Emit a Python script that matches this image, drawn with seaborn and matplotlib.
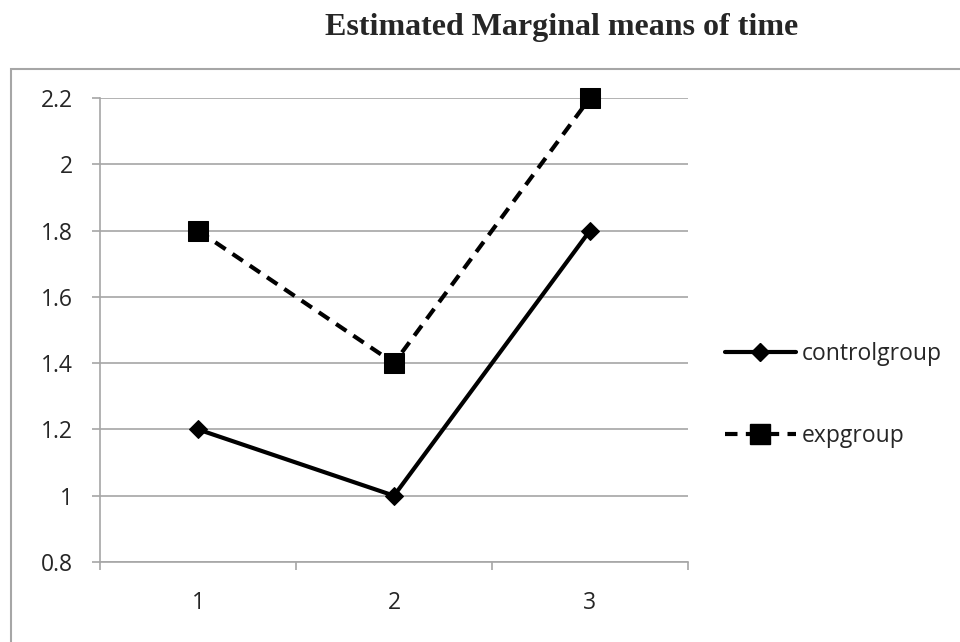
import numpy as np
import pandas as pd
import matplotlib
matplotlib.use('Agg')
import matplotlib.pyplot as plt
from matplotlib.patches import Rectangle
from matplotlib.lines import Line2D
import seaborn as sns

times = [1, 2, 3]
control = [1.2, 1.0, 1.8]
exp = [1.8, 1.4, 2.2]
groups = ['controlgroup', 'expgroup']
y_ticks = [0.8, 1, 1.2, 1.4, 1.6, 1.8, 2, 2.2]
y_labels = ['0.8', '1', '1.2', '1.4', '1.6', '1.8', '2', '2.2']

df = pd.DataFrame({
    'time': times * 2,
    'mean': control + exp,
    'group': [groups[0]] * 3 + [groups[1]] * 3,
})

sns.set_style('white')
plt.rcParams['font.family'] = ['Open Sans', 'DejaVu Sans']
GRID = '#a6a6a6'
FS = 16.5
LW = 3.0

fig = plt.figure(figsize=(9.6, 6.42), dpi=100)
ax = fig.add_axes([100 / 960, 1 - 562 / 642, 588 / 960, 464 / 642])

sns.lineplot(data=df, x='time', y='mean', hue='group', style='group',
             palette=['black', 'black'], markers={'controlgroup': 'D', 'expgroup': 's'},
             dashes={'controlgroup': '', 'expgroup': (3, 2)},
             linewidth=LW, markeredgecolor='black', ax=ax, legend=False, zorder=3)
for ln in ax.lines:
    ln.set_clip_on(False)
    ln.set_markersize(14 if ln.get_marker() == 's' else 9)

ax.set_xlim(0.5, 3.5)
ax.set_ylim(0.8, 2.2)
ax.set_yticks(y_ticks)
ax.set_yticklabels(y_labels)
ax.set_xticks([0.5, 1.5, 2.5, 3.5])
ax.set_xticklabels([])
ax.set_xticks(times, minor=True)
ax.set_xticklabels([str(t) for t in times], minor=True)
ax.tick_params(axis='x', which='major', length=6, width=1.2, color=GRID, direction='out', bottom=True)
ax.tick_params(axis='x', which='minor', length=0, pad=21, labelsize=FS)
ax.tick_params(axis='y', length=6, width=1.2, color=GRID, direction='out', left=True, labelsize=FS, pad=13.5)
ax.set_xlabel('')
ax.set_ylabel('')
ax.grid(axis='y', color=GRID, linewidth=1.2)
ax.set_axisbelow(True)
for s in ['top', 'right']:
    ax.spines[s].set_visible(False)
for s in ['left', 'bottom']:
    ax.spines[s].set_color(GRID)
    ax.spines[s].set_linewidth(1.2)

# legend, off to the right of the plot
handles = [
    Line2D([0], [0], color='black', lw=LW, marker='D', markersize=9),
    Line2D([0], [0], color='black', lw=LW, marker='s', markersize=14, dashes=(3, 2)),
]
fig.legend(handles, groups, loc='center left', bbox_to_anchor=(704 / 960, 1 - 395 / 642),
           frameon=False, fontsize=FS, handlelength=3.1, handletextpad=0.26,
           labelspacing=2.5)

fig.text(562 / 960, 1 - 35 / 642, 'Estimated Marginal means of time', ha='center', va='baseline',
         fontsize=23, fontweight='bold', family=['Liberation Serif', 'DejaVu Serif'])

# outer chart frame (only left and top edges fall inside the image)
fig.add_artist(Rectangle((11 / 960, -0.2), 2, 0.2 + (642 - 69) / 642, transform=fig.transFigure,
                         fill=False, edgecolor=GRID, linewidth=1.5))

fig.savefig('out.png', dpi=100)
